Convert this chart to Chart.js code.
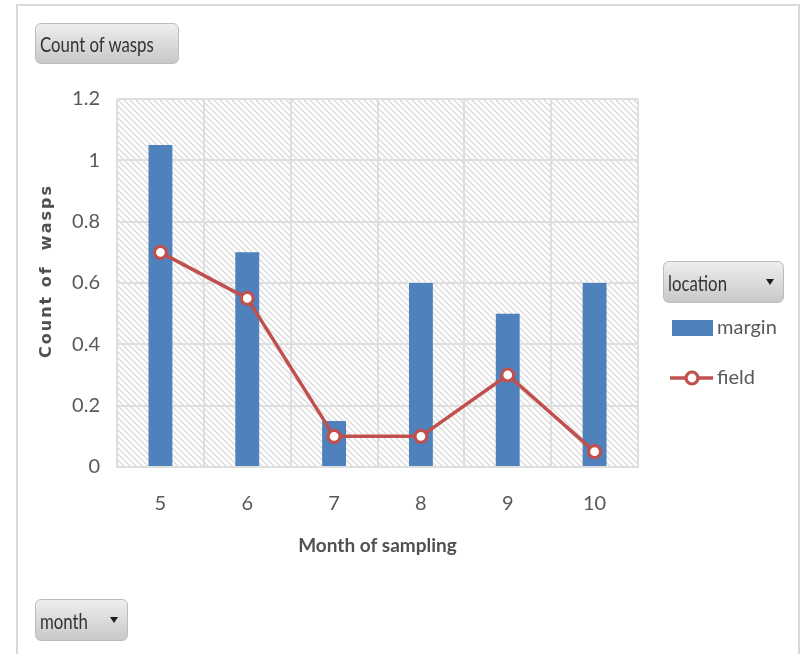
<!DOCTYPE html>
<html>
<head>
<meta charset="utf-8">
<script src="https://cdn.jsdelivr.net/npm/chart.js@4.4.1/dist/chart.umd.min.js"></script>
<style>
  html, body { margin: 0; padding: 0; background: #fff; }
  #wrap { position: relative; width: 800px; height: 654px; overflow: hidden; background: #fff; }
  #frame { position: absolute; left: 16px; top: 4px; width: 780px; height: 700px;
           border: 2px solid #d9d9d9; border-bottom: none; }
  canvas { position: absolute; left: 0; top: 0; }
  .btn { position: absolute; box-sizing: border-box; border: 1px solid #bdbdbd; border-radius: 6px;
         background: linear-gradient(#eeeeee, #c8c8c8); font-family: Lato, sans-serif; font-size: 21px;
         color: #333333; display: flex; align-items: center; padding-left: 4px; }
  .btn span { display: inline-block; transform: scaleX(0.8); transform-origin: left center; white-space: nowrap; }
  .tri { position: absolute; width: 0; height: 0; border-left: 4px solid transparent;
         border-right: 4px solid transparent; border-top: 6px solid #1e1e1e; }
</style>
</head>
<body>
<div id="wrap">
  <div id="frame"></div>
  <canvas id="c" width="800" height="654"></canvas>
  <div class="btn" style="left:35px;top:23px;width:144px;height:41px;"><span>Count of wasps</span></div>
  <div class="btn" style="left:663px;top:261px;width:121px;height:42px;"><span>location</span>
    <div class="tri" style="left:102px;top:17px;"></div></div>
  <div class="btn" style="left:35px;top:599px;width:93px;height:42px;"><span>month</span>
    <div class="tri" style="left:74px;top:17px;"></div></div>
</div>
<script>
// Wasp counts per sampling month, by location
const months = ['5', '6', '7', '8', '9', '10'];
const marginCounts = [1.05, 0.70, 0.15, 0.60, 0.50, 0.60];
const fieldCounts = [0.70, 0.55, 0.10, 0.10, 0.30, 0.05];
const seriesNames = ['margin', 'field'];
const yMin = 0, yMax = 1.2, yStep = 0.2;
const xTitle = 'Month of sampling';
const yTitle = 'Count of  wasps';

const BLUE = '#4f81bd';
const RED = '#c0504d';
const GRID = '#dedede';
const TEXT = '#595959';

Chart.defaults.font.family = 'Lato';

// light diagonal hatch behind the plot area
function hatchPattern(ctx) {
  const p = 6;
  const c = document.createElement('canvas');
  c.width = p; c.height = p;
  const g = c.getContext('2d');
  g.fillStyle = '#ffffff';
  g.fillRect(0, 0, p, p);
  g.strokeStyle = '#dcdcdc';
  g.lineWidth = 1.4;
  [-p, 0, p].forEach(k => {
    g.beginPath();
    g.moveTo(k - 1, -1);
    g.lineTo(k + p + 1, p + 1);
    g.stroke();
  });
  return ctx.createPattern(c, 'repeat');
}

const hatchPlugin = {
  id: 'hatch',
  beforeDraw(chart) {
    const { ctx, chartArea: a } = chart;
    ctx.save();
    ctx.fillStyle = hatchPattern(ctx);
    ctx.fillRect(a.left, a.top, a.right - a.left, a.bottom - a.top);
    ctx.restore();
  }
};

// spaced-out vertical axis title
const yTitlePlugin = {
  id: 'yTitle',
  afterDraw(chart) {
    const { ctx, chartArea: a } = chart;
    ctx.save();
    ctx.translate(47, (a.top + a.bottom) / 2 - 12);
    ctx.rotate(-Math.PI / 2);
    ctx.font = 'bold 16px "DejaVu Sans"';
    ctx.letterSpacing = '2px';
    ctx.fillStyle = '#505050';
    ctx.textAlign = 'center';
    ctx.textBaseline = 'middle';
    ctx.fillText(chart.options.plugins.yTitle.text, 0, 0);
    ctx.restore();
  }
};

// legend panel on the right
const sideLegendPlugin = {
  id: 'sideLegend',
  afterDraw(chart) {
    const { ctx } = chart;
    const ds = chart.data.datasets;
    const bar = ds.find(d => d.type === 'bar');
    const line = ds.find(d => d.type === 'line');
    ctx.save();
    ctx.font = '20px Lato';
    ctx.textBaseline = 'middle';
    ctx.textAlign = 'left';

    ctx.fillStyle = bar.backgroundColor;
    ctx.fillRect(672, 320, 41, 16);
    ctx.fillStyle = TEXT;
    ctx.fillText(bar.label, 717, 328);

    ctx.strokeStyle = line.borderColor;
    ctx.lineWidth = line.borderWidth;
    ctx.beginPath();
    ctx.moveTo(670, 378);
    ctx.lineTo(713, 378);
    ctx.stroke();
    ctx.beginPath();
    ctx.arc(692, 378, line.pointRadius, 0, Math.PI * 2);
    ctx.fillStyle = line.pointBackgroundColor;
    ctx.fill();
    ctx.lineWidth = line.pointBorderWidth;
    ctx.strokeStyle = line.pointBorderColor;
    ctx.stroke();
    ctx.fillStyle = TEXT;
    ctx.fillText(line.label, 717, 378);
    ctx.restore();
  }
};

new Chart(document.getElementById('c'), {
  data: {
    labels: months,
    datasets: [
      {
        type: 'line',
        label: seriesNames[1],
        data: fieldCounts,
        order: 0,
        borderColor: RED,
        borderWidth: 3.5,
        tension: 0,
        pointRadius: 6,
        pointBorderWidth: 3.2,
        pointBackgroundColor: '#ffffff',
        pointBorderColor: RED
      },
      {
        type: 'bar',
        label: seriesNames[0],
        data: marginCounts,
        order: 1,
        backgroundColor: BLUE,
        barPercentage: 0.275,
        categoryPercentage: 1
      }
    ]
  },
  options: {
    responsive: false,
    animation: false,
    layout: { padding: { left: 0, top: 99, right: 162, bottom: 0 } },
    plugins: {
      legend: { display: false },
      tooltip: { enabled: false },
      yTitle: { text: yTitle }
    },
    scales: {
      x: {
        type: 'category',
        offset: true,
        grid: { offset: true, color: GRID, lineWidth: 2, drawTicks: false },
        border: { color: GRID, width: 2 },
        ticks: { color: TEXT, font: { size: 20 }, padding: 25 },
        title: {
          display: true, text: xTitle, color: '#505050',
          font: { size: 19, weight: 'bold' },
          padding: { top: 0, bottom: 97 }
        },
        afterFit(s) { s.height = 187; }
      },
      y: {
        min: yMin, max: yMax,
        ticks: {
          stepSize: yStep, color: TEXT, font: { size: 20 }, padding: 17,
          callback: v => String(Number(v.toFixed(2)))
        },
        grid: { color: GRID, lineWidth: 2, drawTicks: false },
        border: { display: false },
        afterFit(s) { s.width = 117; }
      }
    }
  },
  plugins: [hatchPlugin, yTitlePlugin, sideLegendPlugin]
});
</script>
</body>
</html>
